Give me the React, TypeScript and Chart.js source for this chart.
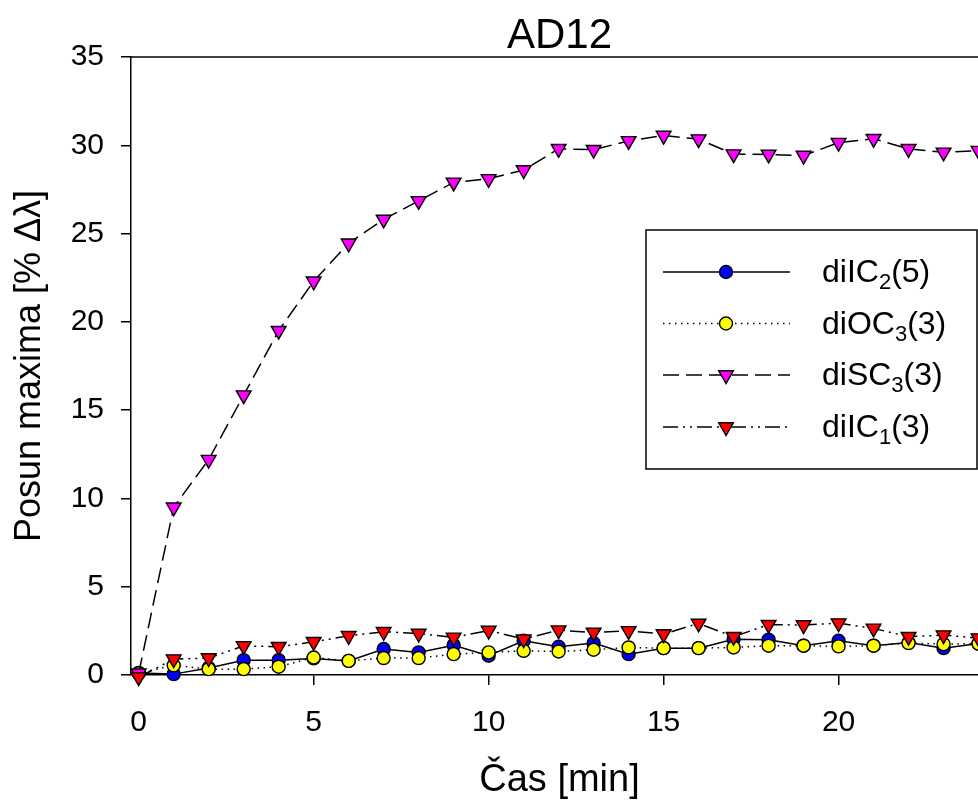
import { useEffect, useRef } from "react";
import { Chart, registerables } from "chart.js";

Chart.register(...registerables);

const times = [0, 1, 2, 3, 4, 5, 6, 7, 8, 9, 10, 11, 12, 13, 14, 15, 16, 17, 18, 19, 20, 21, 22, 23, 24];
const diIC2_5 = [0.12, 0.05, 0.4, 0.84, 0.84, 0.94, 0.8, 1.47, 1.28, 1.69, 1.09, 1.94, 1.6, 1.81, 1.18, 1.52, 1.52, 2.03, 2.0, 1.66, 1.94, 1.66, 1.84, 1.52, 1.78];
const diOC3_3 = [0.1, 0.55, 0.33, 0.33, 0.47, 0.99, 0.8, 0.96, 0.96, 1.18, 1.28, 1.37, 1.33, 1.43, 1.56, 1.52, 1.52, 1.56, 1.66, 1.66, 1.62, 1.66, 1.81, 1.75, 1.78];
const diSC3_3 = [0.1, 9.5, 12.2, 15.85, 19.5, 22.3, 24.45, 25.8, 26.85, 27.9, 28.1, 28.6, 29.8, 29.75, 30.25, 30.55, 30.35, 29.5, 29.48, 29.42, 30.15, 30.37, 29.8, 29.6, 29.7];
const diIC1_3 = [-0.12, 0.9, 0.96, 1.65, 1.6, 1.88, 2.22, 2.45, 2.35, 2.13, 2.52, 2.03, 2.54, 2.41, 2.5, 2.32, 2.92, 2.17, 2.85, 2.83, 2.94, 2.64, 2.17, 2.26, 2.09];

const xTicks = [0, 5, 10, 15, 20];
const yTicks = [0, 5, 10, 15, 20, 25, 30, 35];

const chartTitle = "AD12";
const legendLabels = [
  { base: "diIC", sub: "2", tail: "(5)" },
  { base: "diOC", sub: "3", tail: "(3)" },
  { base: "diSC", sub: "3", tail: "(3)" },
  { base: "diIC", sub: "1", tail: "(3)" },
];

const FONT = "'Liberation Sans', Arial, Helvetica, sans-serif";

function drawMarker(ctx: CanvasRenderingContext2D, ds: any, x: number, y: number) {
  ctx.save();
  ctx.setLineDash([]);
  ctx.fillStyle = ds.pointBackgroundColor;
  ctx.strokeStyle = "#000";
  ctx.lineWidth = ds.pointBorderWidth;
  ctx.beginPath();
  const r = ds.pointRadius;
  if (ds.pointStyle === "triangle") {
    for (let i = 0; i < 3; i++) {
      const a = Math.PI + (i * 2 * Math.PI) / 3;
      const px = x + Math.sin(a) * r;
      const py = y - Math.cos(a) * r;
      if (i === 0) ctx.moveTo(px, py);
      else ctx.lineTo(px, py);
    }
    ctx.closePath();
  } else {
    ctx.arc(x, y, r, 0, Math.PI * 2);
  }
  ctx.fill();
  ctx.stroke();
  ctx.restore();
}

const frameAndLegend = {
  id: "frameAndLegend",
  beforeDatasetsDraw(chart: any) {
    const { ctx, chartArea } = chart;
    ctx.save();
    ctx.strokeStyle = "#000";
    ctx.lineWidth = 1.5;
    ctx.beginPath();
    ctx.moveTo(chartArea.left, chartArea.top);
    ctx.lineTo(chartArea.right, chartArea.top);
    ctx.lineTo(chartArea.right, chartArea.bottom);
    ctx.stroke();
    // title centred over the plot area
    ctx.fillStyle = "#000";
    ctx.font = `42px ${FONT}`;
    ctx.textAlign = "center";
    ctx.textBaseline = "alphabetic";
    ctx.fillText(chartTitle, (chartArea.left + chartArea.right) / 2, 48);
    ctx.restore();
  },
  afterDraw(chart: any) {
    const { ctx } = chart;
    const bx = 646, by = 230, bw = 331, bh = 239;
    ctx.save();
    ctx.fillStyle = "#fff";
    ctx.fillRect(bx, by, bw, bh);
    ctx.strokeStyle = "#000";
    ctx.lineWidth = 1.5;
    ctx.strokeRect(bx, by, bw, bh);
    const rowY = [272, 323.5, 375, 427];
    chart.data.datasets.forEach((ds: any, i: number) => {
      const y = rowY[i];
      ctx.save();
      ctx.strokeStyle = "#000";
      ctx.lineWidth = ds.borderWidth;
      ctx.setLineDash(ds.borderDash || []);
      ctx.beginPath();
      ctx.moveTo(663, y);
      ctx.lineTo(790, y);
      ctx.stroke();
      ctx.restore();
      drawMarker(ctx, ds, 726, y);
      const lab = legendLabels[i];
      ctx.fillStyle = "#000";
      ctx.textBaseline = "alphabetic";
      ctx.textAlign = "left";
      ctx.font = `32px ${FONT}`;
      let x = 822;
      const base = y + 10;
      ctx.fillText(lab.base, x, base);
      x += ctx.measureText(lab.base).width;
      ctx.font = `22px ${FONT}`;
      ctx.fillText(lab.sub, x, base + 7);
      x += ctx.measureText(lab.sub).width;
      ctx.font = `32px ${FONT}`;
      ctx.fillText(lab.tail, x, base);
    });
    ctx.restore();
  },
};

export default function App() {
  const ref = useRef<HTMLCanvasElement | null>(null);

  useEffect(() => {
    if (!ref.current) return;
    const mk = (label: string, data: number[], color: string, style: string, dash: number[], order: number) => ({
      label,
      data: times.map((t, i) => ({ x: t, y: data[i] })),
      borderColor: "#000",
      borderWidth: 1.5,
      borderDash: dash,
      backgroundColor: color,
      pointBackgroundColor: color,
      pointBorderColor: "#000",
      pointBorderWidth: 1.4,
      pointStyle: style,
      pointRotation: style === "triangle" ? 180 : 0,
      pointRadius: style === "triangle" ? 8.5 : 6.5,
      tension: 0,
      clip: false as any,
      order,
    });
    const chart = new Chart(ref.current, {
      type: "line",
      data: {
        datasets: [
          mk("diIC2(5)", diIC2_5, "#0000ff", "circle", [], 4),
          mk("diOC3(3)", diOC3_3, "#ffff00", "circle", [1.5, 4.5], 3),
          mk("diSC3(3)", diSC3_3, "#ff00ff", "triangle", [16, 7], 2),
          mk("diIC1(3)", diIC1_3, "#ff0000", "triangle", [15, 5, 2, 5, 2, 5], 1),
        ] as any,
      },
      options: {
        animation: false,
        responsive: false,
        devicePixelRatio: 1,
        layout: { padding: { left: 0, right: 12, top: 57, bottom: 0 } },
        plugins: {
          legend: { display: false },
          tooltip: { enabled: false },
          title: { display: false },
        },
        scales: {
          x: {
            type: "linear",
            min: -0.22,
            max: 24.27,
            afterFit: (s: any) => { s.height = 126; },
            afterBuildTicks: (s: any) => { s.ticks = xTicks.map((v) => ({ value: v })); },
            border: { display: true, color: "#000", width: 1.5 },
            grid: { display: true, drawOnChartArea: false, drawTicks: true, tickLength: 10, color: "#000", lineWidth: 1.5 },
            ticks: { color: "#000", padding: 20, maxRotation: 0, font: { family: FONT, size: 30 } },
            title: {
              display: true,
              text: "Čas [min]",
              color: "#000",
              font: { family: FONT, size: 38, lineHeight: 1 },
              padding: { top: 0, bottom: 1 },
            },
          },
          y: {
            type: "linear",
            min: 0,
            max: 35,
            afterFit: (s: any) => { s.width = 131; },
            afterBuildTicks: (s: any) => { s.ticks = yTicks.map((v) => ({ value: v })); },
            border: { display: true, color: "#000", width: 1.5 },
            grid: { display: true, drawOnChartArea: false, drawTicks: true, tickLength: 10, color: "#000", lineWidth: 1.5 },
            ticks: { color: "#000", padding: 17, font: { family: FONT, size: 30 } },
            title: {
              display: true,
              text: "Posun maxima [% Δλ]",
              color: "#000",
              font: { family: FONT, size: 36, lineHeight: 1.2 },
              padding: { top: 8, bottom: 0 },
            },
          },
        },
      },
      plugins: [frameAndLegend],
    });
    return () => chart.destroy();
  }, []);

  return (
    <div style={{ position: "fixed", left: 0, top: 0, width: 978, height: 801, overflow: "hidden", background: "#fff" }}>
      <canvas ref={ref} width={1000} height={801} style={{ display: "block", width: 1000, height: 801 }} />
    </div>
  );
}
